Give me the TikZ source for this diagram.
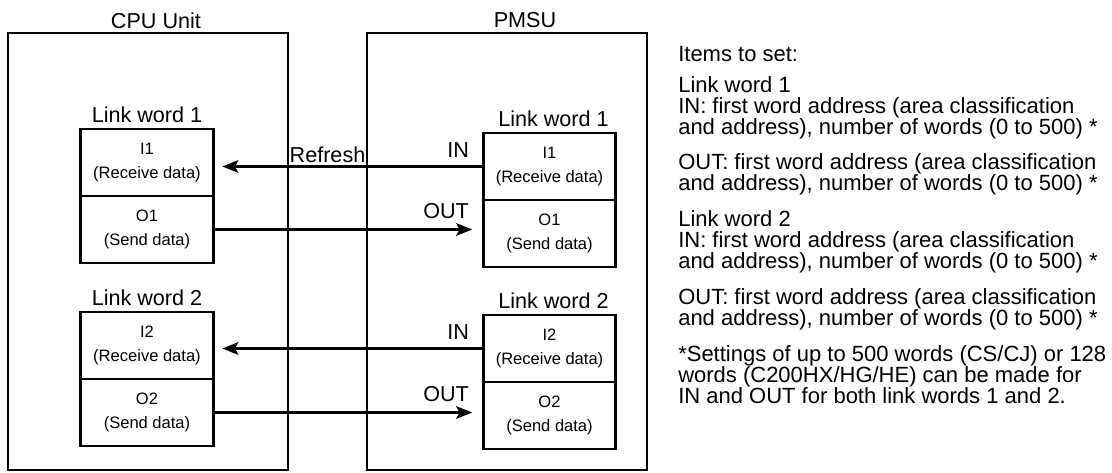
\documentclass[tikz,border=0pt]{standalone}
\usepackage{fontspec}
\setmainfont{Liberation Sans}
\usetikzlibrary{positioning, arrows.meta, calc}

\begin{document}
\begin{tikzpicture}[
  x=0.75pt, y=-0.75pt,
  >={Stealth[length=12pt, width=9.5pt, inset=2.5pt]},
  unit/.style={draw, line width=1.5pt, minimum width=210pt, minimum height=327.75pt, inner sep=0pt, outer sep=0pt},
  cell/.style={draw, line width=2.1pt, minimum width=99.5pt, minimum height=50.25pt, inner sep=0pt, outer sep=0pt, align=center, font=\fontsize{12.4}{18}\selectfont},
  title/.style={font=\fontsize{16.2}{18}\selectfont, inner sep=0pt},
  arrow/.style={->, line width=1.7pt},
  note/.style={font=\fontsize{16.5}{15.9}\selectfont, align=left, inner sep=0pt, anchor=north west}
]
\useasboundingbox (0,0) rectangle (1112,472);

% Units
\node[unit] (cpu) at (148, 251.5) {};
\node[unit] (pmsu) at (507, 251.5) {};
\node[title, anchor=base] (cpu-title) at (156, 28) {CPU Unit};
\node[title, anchor=base] (pmsu-title) at (525, 27) {PMSU};

% Link words (CPU side and PMSU side)
\foreach \n/\yc/\yp in {1/162.5/166.5, 2/345.5/348.5} {
  \node[cell] (cI\n) at (147, \yc) {I\n\\(Receive data)};
  \node[cell, below=0pt of cI\n] (cO\n) {O\n\\(Send data)};
  \node[title, above=4.5pt of cI\n] (cL\n) {Link word \n};
  \node[cell] (pI\n) at (549.5, \yp) {I\n\\(Receive data)};
  \node[cell, below=0pt of pI\n] (pO\n) {O\n\\(Send data)};
  \node[title, above=4.5pt of pI\n, xshift=3pt] (pL\n) {Link word \n};
}

% Data flow
\foreach \n in {1,2} {
  \draw[arrow, shorten >=6.75pt] (pI\n.west) -- (cI\n.east |- pI\n.west);
  \draw[arrow, shorten >=8.25pt] (cO\n.east) -- (cO\n.east -| pO\n.west);
  \node[title, anchor=base east] (in\n) at ($(pI\n.west)+(-14,-9)$) {IN};
  \node[title, anchor=base east] (out\n) at ($(cO\n.east -| pO\n.west)+(-14,-11)$) {OUT};
}
\node[title, anchor=base] (refresh) at (327.5, 162) {Refresh};

% Settings text
\node[note] (items) at (678, 46) {Items to set:};
\node[note] (lw1-set) at (678, 76) {Link word 1\\IN: first word address (area classification\\and address), number of words (0 to 500) *};
\node[note] (lw1-out) at (678, 153.5) {OUT: first word address (area classification\\and address), number of words (0 to 500) *};
\node[note] (lw2-set) at (678, 210) {Link word 2\\IN: first word address (area classification\\and address), number of words (0 to 500) *};
\node[note] (lw2-out) at (678, 288) {OUT: first word address (area classification\\and address), number of words (0 to 500) *};
\node[note] (footnote) at (678, 345) {*Settings of up to 500 words (CS/CJ) or 128\\words (C200HX/HG/HE) can be made for\\IN and OUT for both link words 1 and 2.};

\end{tikzpicture}
\end{document}
